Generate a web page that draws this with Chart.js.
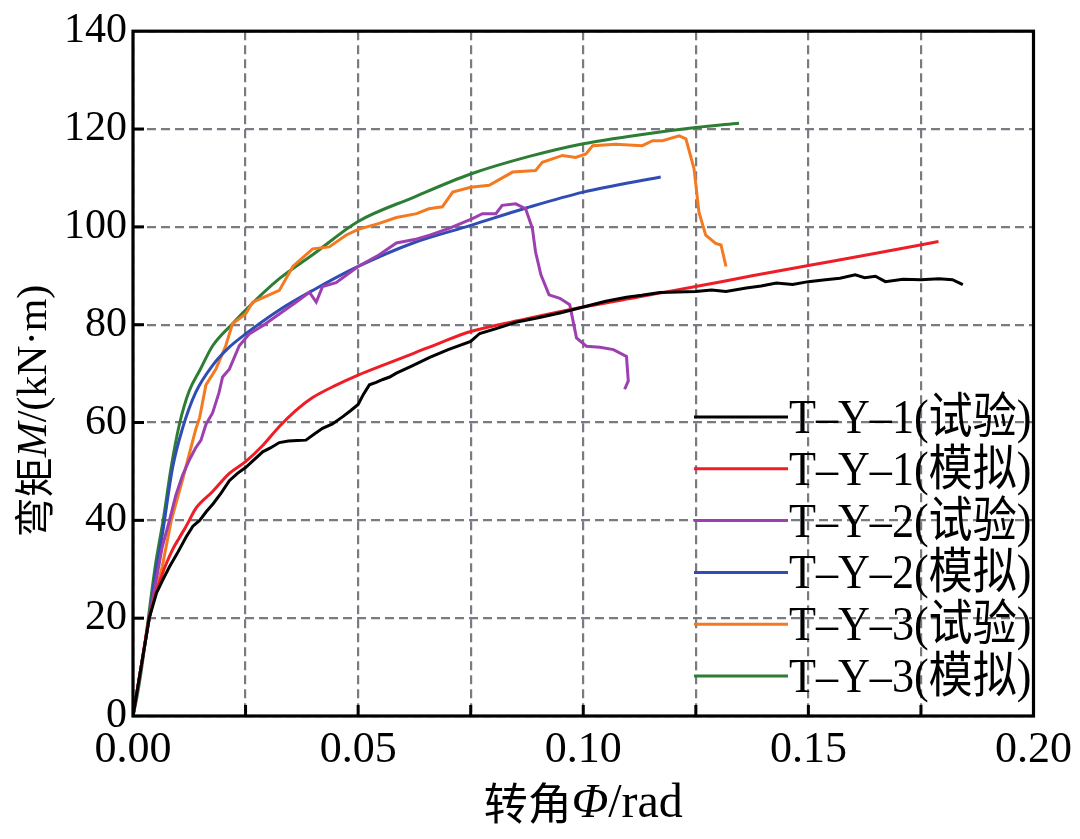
<!DOCTYPE html>
<html><head><meta charset="utf-8">
<script src="https://cdn.jsdelivr.net/npm/chart.js@4/dist/chart.umd.min.js"></script>
<style>html,body{margin:0;padding:0;background:#fff;overflow:hidden}#wrap{width:1080px;height:839px}</style>
</head><body><div id="wrap"><canvas id="c" width="1080" height="839"></canvas></div>
<script>
// ---------- data (rotation Φ in rad, moment M in kN·m) ----------
const seriesLabels = ['T–Y–1(试验)','T–Y–1(模拟)','T–Y–2(试验)','T–Y–2(模拟)','T–Y–3(试验)','T–Y–3(模拟)'];
const seriesColors = ['#000000','#ee1d26','#9d3fb0','#2f4db3','#f47a22','#2e7d35'];

const ty1TestX = [0,0.0018,0.0036,0.0052,0.0066,0.0081,0.0098,0.0118,0.0133,0.0148,0.0163,0.0178,0.0196,0.0214,0.0232,0.025,0.0268,0.0288,0.0305,0.0325,0.0345,0.0365,0.0384,0.0402,0.0421,0.0443,0.0466,0.0483,0.05,0.0512,0.0525,0.054,0.0555,0.057,0.0585,0.062,0.0659,0.07,0.075,0.077,0.081,0.085,0.09,0.0948,0.1,0.105,0.1096,0.113,0.117,0.121,0.125,0.1285,0.1317,0.1362,0.1395,0.1429,0.1465,0.15,0.1538,0.157,0.1604,0.1625,0.1649,0.1671,0.171,0.175,0.179,0.182,0.1843];
const ty1TestY = [0,10,20,25.1,27.8,30.5,33.2,36.6,38.8,40,41.8,43.4,45.6,48.1,49.6,50.8,52.3,54,54.8,55.9,56.2,56.3,56.4,57.6,58.8,59.7,61.2,62.4,63.7,65.8,67.7,68.2,68.8,69.3,70.1,71.6,73.3,74.9,76.6,78.2,79.3,80.5,81.4,82.4,83.6,84.8,85.6,86,86.6,86.7,86.8,87.1,86.8,87.5,87.9,88.5,88.2,88.8,89.2,89.5,90.2,89.6,89.9,88.8,89.3,89.2,89.4,89.2,88.2];

const ty1SimX = [0,0.0018,0.0036,0.0065,0.0089,0.0102,0.0118,0.014,0.0177,0.0214,0.025,0.0288,0.0325,0.0362,0.0399,0.045,0.05,0.056,0.0622,0.0685,0.075,0.0875,0.1,0.1125,0.125,0.1375,0.15,0.165,0.1789];
const ty1SimY = [0,10,20,29,34.2,36.3,38.8,42.5,45.9,49.6,52,55.3,59.2,62.5,65.1,67.6,69.7,71.9,74.1,76.4,78.6,81.2,83.6,85.7,87.8,90,92.1,94.6,97];

const ty2TestX = [0,0.0018,0.0036,0.0065,0.0081,0.0095,0.011,0.0125,0.0139,0.0151,0.0162,0.0177,0.0191,0.0199,0.0214,0.0236,0.0258,0.0288,0.0325,0.0362,0.0392,0.0407,0.0421,0.0451,0.0475,0.05,0.0547,0.0585,0.0625,0.0659,0.0702,0.0754,0.0776,0.0806,0.082,0.085,0.0872,0.0887,0.0894,0.0906,0.0924,0.0948,0.097,0.0985,0.1007,0.1037,0.1067,0.1096,0.11,0.1092];
const ty2TestY = [0,10,20,34.6,40,45.1,49.2,52.3,54.8,56.4,59.6,62,66.1,69.3,70.9,75.7,78.1,79.8,82.2,84.6,86.6,84.6,87.8,88.6,90.2,91.9,94.3,96.7,97.4,98.3,99.7,101.7,102.7,102.7,104.4,104.7,103.7,99.7,94.9,90.2,86.1,85.4,84.1,77.3,75.6,75.4,74.9,73.5,68.5,66.8];

const ty2SimX = [0,0.0018,0.0036,0.005,0.0065,0.0088,0.011,0.0139,0.0177,0.0215,0.025,0.0325,0.0399,0.05,0.0622,0.075,0.0875,0.1,0.1172];
const ty2SimY = [0,10,20,29,37,50.8,58.8,66.1,71.7,75.5,78.1,83,87,91.9,96.7,100.3,103.9,107.1,110.2];

const ty3TestX = [0,0.0018,0.0036,0.0065,0.0085,0.011,0.0139,0.0148,0.0162,0.0184,0.0206,0.0221,0.025,0.0266,0.0295,0.0325,0.0355,0.0399,0.0436,0.0473,0.05,0.0547,0.0585,0.063,0.0657,0.0687,0.071,0.075,0.0791,0.0843,0.0894,0.0909,0.0954,0.0983,0.1006,0.1021,0.1072,0.1131,0.1154,0.1176,0.1213,0.1228,0.1246,0.1257,0.1272,0.1294,0.1306,0.1317];
const ty3TestY = [0,10,20,30.6,40,48.3,58.5,61,67.7,70.9,75.7,80.2,82.2,84.6,85.8,87,91.9,95.5,95.9,98.3,99.5,100.7,101.9,102.7,103.7,104.1,107.1,108.1,108.5,111.2,111.5,113.2,114.6,114.2,114.9,116.6,116.9,116.6,117.6,117.6,118.6,118,111.9,103,98.3,96.6,96.3,91.9];

const ty3SimX = [0,0.0009,0.0018,0.0034,0.005,0.0067,0.0085,0.0104,0.0125,0.0149,0.0177,0.0221,0.025,0.0325,0.0399,0.05,0.0622,0.075,0.088,0.1,0.1139,0.125,0.1346];
const ty3SimY = [0,4,9,20,31,40,51,60,66.5,70.8,75.7,80.2,83,89.4,94.3,101.1,106,110.8,114.4,117,119,120.3,121.2];

const xTickValues = [0,0.025,0.05,0.075,0.1,0.125,0.15,0.175,0.2];
const yTickValues = [0,20,40,60,80,100,120,140];

// ---------- build datasets ----------
function pts(xs, ys){ return xs.map((v,i)=>({x:v,y:ys[i]})); }
const seriesX = [ty1TestX,ty1SimX,ty2TestX,ty2SimX,ty3TestX,ty3SimX];
const seriesY = [ty1TestY,ty1SimY,ty2TestY,ty2SimY,ty3TestY,ty3SimY];
const simulated = [false,true,false,true,false,true];
const datasets = seriesLabels.map((lab,i)=>({
  label: lab,
  data: pts(seriesX[i], seriesY[i]),
  borderColor: seriesColors[i],
  backgroundColor: seriesColors[i],
  borderWidth: 3,
  pointRadius: 0,
  showLine: true,
  fill: false,
  tension: simulated[i] ? 0.35 : 0,
  cubicInterpolationMode: simulated[i] ? 'monotone' : 'default'
}));

const SERIF = "'Liberation Serif','Times New Roman',serif";
const CJK = "'Noto Sans CJK SC','Noto Sans CJK JP',sans-serif";

function drawRuns(ctx, runs, cx, baseY){
  let total = 0;
  runs.forEach(r=>{ ctx.font = r.f; r.w = ctx.measureText(r.t).width; total += r.w; });
  let x = cx - total/2;
  ctx.textAlign = 'left'; ctx.textBaseline = 'alphabetic';
  runs.forEach(r=>{ ctx.font = r.f; ctx.fillText(r.t, x, baseY + (r.dy||0)); x += r.w; });
}

const decor = {
  id: 'decor',
  afterDraw(chart){
    const {ctx, chartArea:a, scales:{x, y}} = chart;
    ctx.save();
    ctx.setLineDash([]);
    ctx.strokeStyle = '#000'; ctx.fillStyle = '#000';
    // inward tick marks
    ctx.lineWidth = 3;
    yTickValues.forEach(v=>{
      if (v<=0 || v>=140) return;
      const py = y.getPixelForValue(v);
      ctx.beginPath(); ctx.moveTo(a.left, py); ctx.lineTo(a.left+11, py); ctx.stroke();
    });
    xTickValues.forEach(v=>{
      if (v<=0 || v>=0.2) return;
      const px = x.getPixelForValue(v);
      ctx.beginPath(); ctx.moveTo(px, a.bottom); ctx.lineTo(px, a.bottom-11); ctx.stroke();
    });
    // frame
    ctx.lineWidth = 3.2;
    ctx.strokeRect(a.left, a.top, a.right-a.left, a.bottom-a.top);

    // legend
    const lx0 = 694, lx1 = 788, ly0 = 417, dy = 51.8;
    chart.data.datasets.forEach((ds,i)=>{
      const yy = ly0 + i*dy;
      ctx.strokeStyle = ds.borderColor; ctx.lineWidth = 3;
      ctx.beginPath(); ctx.moveTo(lx0, yy); ctx.lineTo(lx1, yy); ctx.stroke();
      ctx.save();
      ctx.translate(lx1+1, yy + 16);
      ctx.scale(0.9, 1);
      ctx.fillStyle = '#000';
      ctx.font = "49px " + SERIF + "," + CJK;
      ctx.textAlign = 'left'; ctx.textBaseline = 'alphabetic';
      ctx.fillText(ds.label, 0, 0);
      ctx.restore();
    });

    // axis titles
    ctx.fillStyle = '#000';
    drawRuns(ctx, [
      {t:'转角', f:"44px "+CJK, dy:3},
      {t:'Φ', f:"italic 48px "+SERIF},
      {t:'/rad', f:"48px "+SERIF}
    ], (a.left+a.right)/2, 817);

    ctx.save();
    ctx.translate(46, 411);
    ctx.rotate(-Math.PI/2);
    drawRuns(ctx, [
      {t:'弯矩', f:"40px "+CJK, dy:3},
      {t:'M', f:"italic 42px "+SERIF},
      {t:'/(kN·m)', f:"42px "+SERIF}
    ], 0, 0);
    ctx.restore();
    ctx.restore();
  }
};

Chart.defaults.font.family = SERIF;
Chart.defaults.color = '#000';

new Chart(document.getElementById('c'), {
  type: 'scatter',
  data: { datasets },
  options: {
    responsive: false,
    devicePixelRatio: 1,
    animation: false,
    layout: { padding: { left: 0, top: 29, right: 45, bottom: 0 } },
    plugins: { legend: { display: false }, tooltip: { enabled: false } },
    scales: {
      x: {
        type: 'linear', min: 0, max: 0.2,
        afterFit(s){ s.height = 123; },
        afterBuildTicks(s){ s.ticks = xTickValues.map(v=>({value:v})); },
        ticks: {
          padding: 8,
          font: { size: 44, family: SERIF },
          color: '#000',
          callback(v){ const k = v/0.05; return Math.abs(k-Math.round(k))<1e-6 ? v.toFixed(2) : ''; }
        },
        grid: { color: '#7a7a82', lineWidth: 2.2, drawTicks: false },
        border: { display: false, dash: [9,5] }
      },
      y: {
        type: 'linear', min: 0, max: 140,
        afterFit(s){ s.width = 133; },
        afterBuildTicks(s){ s.ticks = yTickValues.map(v=>({value:v})); },
        ticks: {
          padding: 6,
          font: { size: 42, family: SERIF },
          color: '#000',
          callback(v){ return String(v); }
        },
        grid: { color: '#7a7a82', lineWidth: 2.2, drawTicks: false },
        border: { display: false, dash: [9,5] }
      }
    }
  },
  plugins: [decor]
});
</script>
</body></html>
